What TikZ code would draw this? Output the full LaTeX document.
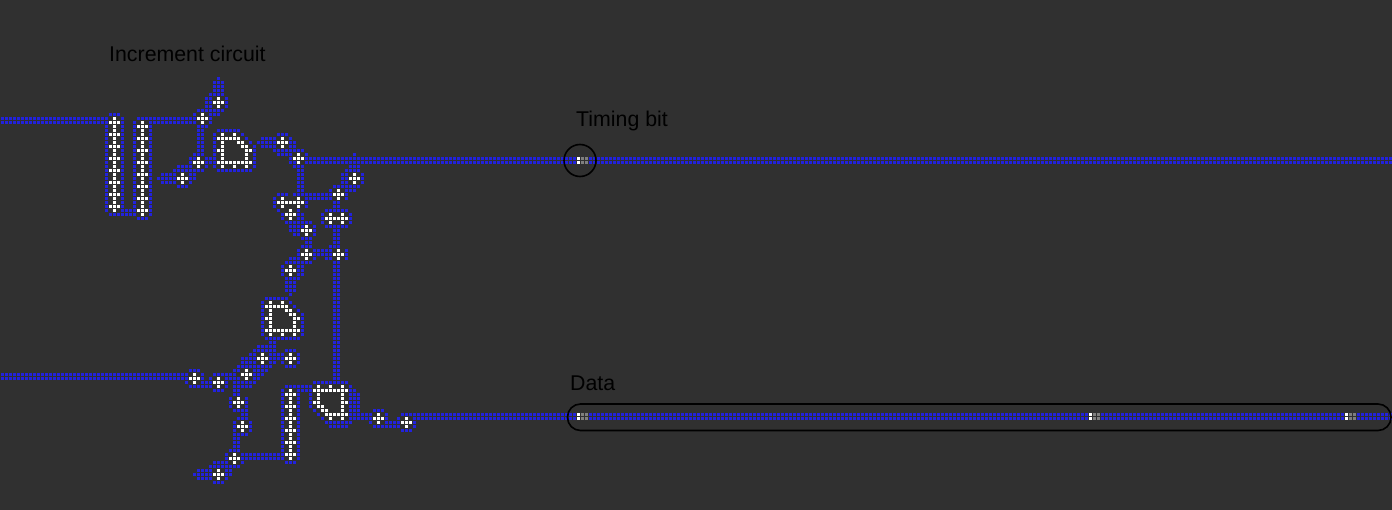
\documentclass[tikz,border=0pt]{standalone}
\usepackage{fontspec}
\setmainfont{Liberation Sans}
\usepackage{tikz}
\definecolor{gridbg}{HTML}{303030}
\definecolor{wireblue}{HTML}{2222DD}
\definecolor{tailgray}{HTML}{7F7F7F}
\tikzset{wirecell/.style={fill=wireblue},headcell/.style={fill=white},tailcell/.style={fill=tailgray},
  ringline/.style={draw=black,line width=1.6pt},
  caption/.style={anchor=base west,inner sep=0pt,text=black,font=\fontsize{21.33}{25}\selectfont}}
\newcommand{\cells}[3]{\foreach \cc in {#3} {\fill[#1] ({4*\cc+1},{4*#2+1}) rectangle ++(3,3);}}
\newcommand{\wirerow}[2]{\cells{wirecell}{#1}{#2}}
\newcommand{\headrow}[2]{\cells{headcell}{#1}{#2}}
\newcommand{\pluscell}[2]{\headrow{\the\numexpr#2-1\relax}{#1}\headrow{#2}{\the\numexpr#1-1\relax,#1,\the\numexpr#1+1\relax}\headrow{\the\numexpr#2+1\relax}{#1}}
\newcommand{\dgate}{%
\wirerow{32}{54,...,59}
\wirerow{33}{53,60}\headrow{33}{55,58}
\wirerow{34}{53,61}\headrow{34}{54,...,59}
\wirerow{35}{53,62}\headrow{35}{55,59,60}
\wirerow{36}{53,63}\headrow{36}{55,60,61}
\wirerow{37}{53,63}\headrow{37}{54,55,61,62}
\wirerow{38}{53,63}\headrow{38}{55,61}
\wirerow{39}{53,63}\headrow{39}{55,61}
\wirerow{40}{53,63}\headrow{40}{54,...,62}
\wirerow{41}{53,63}\headrow{41}{55,58,61}
\wirerow{42}{54,...,62}}
\begin{document}
\begin{tikzpicture}[x=1pt,y=-1pt]
\useasboundingbox (0,0) rectangle (1392,510);
\fill[gridbg] (0,0) rectangle (1392,510);
% wire cells, row by row
\wirerow{19}{54}
\foreach \r in {20,21,22} {\wirerow{\r}{53,54,55}}
\wirerow{23}{52,...,55}
\foreach \r in {24,25,26} {\wirerow{\r}{51,52,56}}
\wirerow{27}{49,...,55}
\wirerow{28}{27,28,29,48,52,53,54}
\wirerow{29}{0,...,26,30,34,35,...,48,52}
\wirerow{30}{0,...,26,30,33,37,38,...,48,52}
\foreach \r in {31,...,52} {\wirerow{\r}{26,30,33,37}}
\wirerow{52}{31,32}
\wirerow{53}{27,...,33,37}
\wirerow{54}{34,35,36}
\wirerow{31}{49,50,51}
\foreach \r in {32,...,37} {\wirerow{\r}{49,50}}
\wirerow{38}{48,49,50}
\wirerow{39}{47,48,51,52}
\wirerow{40}{47,51,52}
\wirerow{41}{44,45,46,47,51}
\wirerow{42}{43,...,50}
\wirerow{43}{40,41,42,43,47,48}
\wirerow{44}{39,...,43,47,48}
\wirerow{45}{40,41,42,43,47}
\wirerow{46}{44,45,46}
\wirerow{33}{69,70,71}
\wirerow{34}{65,66,67,68,72}
\wirerow{35}{64,...,68,72,73}
\wirerow{36}{65,66,67,68,72,73}
\wirerow{37}{68,...,75}
\wirerow{38}{69,70,71,72,76,88}
\wirerow{39}{72,76,77,...,143,147,148,...,347}
\wirerow{40}{72,73,76,77,...,143,147,148,...,347}
\wirerow{41}{73,74,75,87,88,89}
\wirerow{42}{74,75,86,87,88,89}
\foreach \r in {43,44,45} {\wirerow{\r}{74,75,85,86,90}}
\wirerow{46}{74,75,83,84,...,89}
\wirerow{47}{74,75,82,86,87,88}
\wirerow{48}{69,70,71,73,74,...,82,86}
\wirerow{49}{68,76,77,...,82,86}
\wirerow{50}{68,76,83,84}
\wirerow{51}{68,76,83,84}
\wirerow{52}{69,74,81,82,...,86}
\wirerow{53}{70,74,75,80,87}
\wirerow{54}{70,74,75,80,87}
\wirerow{55}{71,...,77,80,87}
\wirerow{56}{72,73,74,75,78,81,82,...,86}
\wirerow{57}{72,73,74,78,83,84}
\wirerow{58}{73,74,78,83,84}
\wirerow{59}{75,76,77,83,84}
\wirerow{60}{76,77,83,84}
\wirerow{61}{75,76,77,82,83,84}
\wirerow{62}{74,78,79,...,82,86}
\wirerow{63}{74,78,79,...,82,86}
\wirerow{64}{72,73,74,78,81,82,86}
\wirerow{65}{71,...,77,83,84}
\foreach \r in {66,67,68} {\wirerow{\r}{70,74,75,83,84}}
\wirerow{69}{71,72,73,74,83,84}
\foreach \r in {70,71,72} {\wirerow{\r}{71,72,73,83,84}}
\wirerow{73}{72,83,84}
\foreach \r in {74,...,94} {\wirerow{\r}{83,84}}
\wirerow{85}{67,68}
\wirerow{86}{64,...,68}
\wirerow{87}{63,...,68,71,72,73}
\wirerow{88}{62,63,67,68,69,70,74}
\wirerow{89}{60,61,62,63,67,68,69,70,74}
\wirerow{90}{60,61,62,63,67,68,70,74}
\wirerow{91}{59,...,67,71,72,73}
\wirerow{92}{47,48,49,58,59,63,64,65,66}
\wirerow{93}{0,...,46,50,53,54,...,58,63,64,65}
\wirerow{94}{0,...,46,50,52,56,57,58,59,63,64}
\wirerow{95}{46,50,51,52,56,58,59,...,63,78,79,...,86}
\wirerow{96}{47,...,52,56,58,59,...,62,71,72,...,77,87}
\wirerow{97}{53,54,55,58,59,70,74,75,76,77,87,88}
\wirerow{98}{58,59,70,74,77,87,88,89}
\foreach \r in {99,100,101} {\wirerow{\r}{57,61,70,74,77,87,88,89}}
\wirerow{102}{58,59,60,61,70,74,78,87,88,89,93,94,95}
\wirerow{103}{60,61,70,74,79,87,88,...,92,96,100,101,...,143,147,148,...,271,275,276,...,335,339,340,...,347}
\wirerow{104}{59,60,61,70,74,80,87,88,...,92,96,99,103,104,...,143,147,148,...,271,275,276,...,335,339,340,...,347}
\wirerow{105}{58,62,70,74,81,82,...,87,92,96,97,98,99,103}
\wirerow{106}{58,62,70,74,82,83,...,86,93,94,...,99,103}
\wirerow{107}{58,62,70,74,100,101,102}
\wirerow{108}{58,59,60,61,70,74}
\foreach \r in {109,110,111} {\wirerow{\r}{58,59,70,74}}
\wirerow{112}{57,58,59,70,74}
\wirerow{113}{56,60,61,...,70,74}
\wirerow{114}{56,60,61,...,70,74}
\wirerow{115}{53,54,55,56,60,71,72,73}
\wirerow{116}{52,...,59}
\wirerow{117}{49,50,51,52,56,57}
\wirerow{118}{48,...,52,56,57}
\wirerow{119}{49,50,51,52,56}
\wirerow{120}{53,54,55}
% the two delay gates
\dgate
\begin{scope}[shift={(48,168)}]
\dgate
\end{scope}
% the third gate
\headrow{96}{79,82,85}
\headrow{97}{78,...,86}
\headrow{98}{79,85}
\headrow{99}{79,85}
\headrow{100}{78,79,85,86}
\headrow{101}{79,80,85}
\headrow{102}{80,81,85}
\headrow{103}{81,...,86}
\headrow{104}{82,85}
% bars
\foreach \r in {29,...,52} {\headrow{\r}{28}}
\foreach \r in {30,33,...,51} {\headrow{\r}{27,29}}
\foreach \r in {30,...,53} {\headrow{\r}{35}}
\foreach \r in {31,34,...,52} {\headrow{\r}{34,36}}
\foreach \r in {97,...,114} {\headrow{\r}{72}}
\foreach \r in {98,101,...,113} {\headrow{\r}{71,73}}
% plus cells
\foreach \a/\b in {54/25,50/29,49/40,45/44,70/35,74/39,88/44,84/48,70/50,74/50,72/53,82/54,85/54,76/57,76/63,84/63,72/67,65/89,72/89,61/93,48/94,54/95,59/100,60/106,58/114,54/118,94/104,101/105} {\pluscell{\a}{\b}}
\headrow{50}{72}
% the signal bits
\foreach \r in {39,40,103,104} {\headrow{\r}{144}\cells{tailcell}{\r}{145,146}}
\foreach \r in {103,104} {\headrow{\r}{272,336}\cells{tailcell}{\r}{273,274,337,338}}
% marks and labels
\draw[ringline] (580,160.5) circle (16);
\draw[ringline,rounded corners=13pt] (567.5,404) rectangle (1391,430.5);
\node[caption] (incrementlabel) at (109,62) {Increment circuit};
\node[caption] (timinglabel) at (576,127) {Timing bit};
\node[caption] (datalabel) at (570,391) {Data};
\end{tikzpicture}
\end{document}
